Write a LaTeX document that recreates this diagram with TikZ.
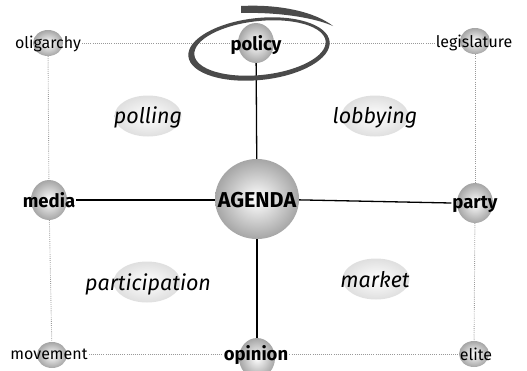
\documentclass[tikz,border=0pt]{standalone}
\usepackage{fontspec}
\setmainfont{Fira Sans}
\usetikzlibrary{shapes.geometric}
\pgfdeclarelayer{bg}
\pgfsetlayers{bg,main}
\definecolor{scrib}{HTML}{4A4A4A}
\tikzset{
  ball/.style={ellipse, inner sep=0pt, draw=none, inner color=white, outer color=gray!70},
  smallball/.style={ball, minimum width=30pt, minimum height=26pt},
  midball/.style={ball, minimum width=36pt, minimum height=40pt},
  bigball/.style={ball, minimum width=84pt, minimum height=80pt},
  lab/.style={font=\fontsize{16}{16}\selectfont, inner sep=1pt, anchor=base},
  blab/.style={font=\bfseries\fontsize{18.5}{18.5}\selectfont, inner sep=1pt, anchor=base},
  biglab/.style={font=\bfseries\fontsize{21.5}{21.5}\selectfont, inner sep=1pt, anchor=base},
  topic/.style={ellipse, inner sep=0pt, inner color=white, outer color=gray!25,
    minimum width=67pt, minimum height=41pt},
  topiclab/.style={font=\itshape\fontsize{21.5}{21.5}\selectfont, inner sep=0pt, anchor=base},
  dotline/.style={gray!80, line width=0.9pt, dash pattern=on 0.8pt off 1.3pt},
  solidline/.style={black, line width=1.3pt}
}
\begin{document}
\begin{tikzpicture}[x=1pt,y=-1pt]
\useasboundingbox (0,0) rectangle (527,370);
% topic ellipses
\node[topic] (poll) at (148,116) {};
\node[topic] (lobb) at (375,116) {};
\node[topic] (parti) at (147,282) {};
\node[topic] (mark) at (376,279) {};
\node[topiclab] (pollt) at (148,123.5) {polling};
\node[topiclab] (lobbt) at (375,123.5) {lobbying};
\node[topiclab] (partit) at (148,290) {participation};
\node[topiclab] (markt) at (375,287) {market};
% spheres
\node[smallball] (ol) at (48,43) {};
\node[midball] (pol) at (256,43) {};
\node[smallball] (leg) at (475,41) {};
\node[midball] (med) at (49,200) {};
\node[bigball] (ag) at (257,199) {};
\node[midball] (par) at (475,203) {};
\node[smallball] (mov) at (52,355) {};
\node[midball] (opi) at (257,358) {};
\node[smallball] (eli) at (474,354) {};
% labels
\node[lab] (olt) at (48,48) {oligarchy};
\node[blab] (polt) at (256,50) {policy};
\node[lab] (legt) at (474,47) {legislature};
\node[blab] (medt) at (49,207) {media};
\node[biglab] (agt) at (257,207) {AGENDA};
\node[blab] (part) at (475,208) {party};
\node[lab] (movt) at (49,359) {movement};
\node[blab] (opit) at (256,360) {opinion};
\node[lab] (elit) at (476,360) {elite};
% connectors
\begin{pgfonlayer}{bg}
\draw[dotline] (olt.east |- ol) -- (polt.west |- ol);
\draw[dotline] (polt.east |- ol) -- (legt.west |- ol);
\draw[dotline] (ol) -- (med);
\draw[dotline] (med) -- (mov);
\draw[dotline] (leg) -- (par);
\draw[dotline] (par) -- (eli);
\draw[dotline] (movt.east |- eli) -- (opit.west |- eli);
\draw[dotline] (opit.east |- eli) -- (elit.west |- eli);
\draw[solidline] (pol) -- (ag);
\draw[solidline] (ag) -- (opi);
\draw[solidline] (medt.east |- med) -- (ag.center |- med);
\draw[solidline] (ag) -- (part.west |- par);
\end{pgfonlayer}
% hand-drawn circle round policy
\fill[scrib, even odd rule]
  (259,49) ellipse [x radius=71, y radius=31, rotate=6]
  (260,48) ellipse [x radius=66, y radius=27, rotate=6];
\fill[scrib] (241,6) .. controls (280,4) and (315,12) .. (333,26)
  .. controls (315,18) and (280,12) .. (241,13) -- cycle;
\end{tikzpicture}
\end{document}
